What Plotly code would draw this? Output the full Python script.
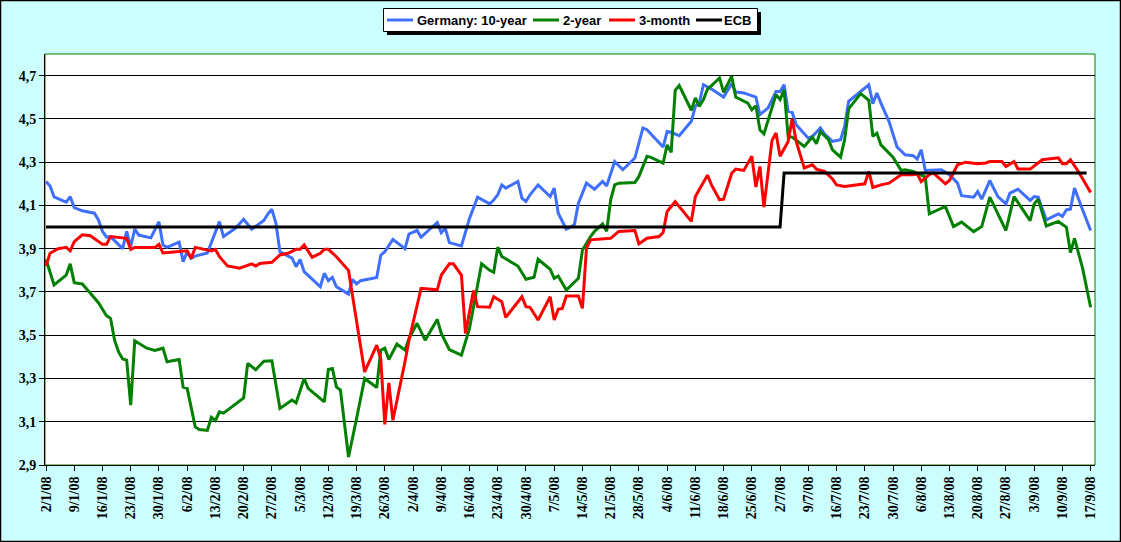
import plotly.graph_objects as go

# German yields 2008
dates_10y = [
    "2008-01-02", "2008-01-03", "2008-01-04", "2008-01-07", "2008-01-08", "2008-01-09",
    "2008-01-11", "2008-01-14", "2008-01-15", "2008-01-16", "2008-01-17", "2008-01-18",
    "2008-01-21", "2008-01-22", "2008-01-23", "2008-01-24", "2008-01-25", "2008-01-28",
    "2008-01-30", "2008-01-31", "2008-02-01", "2008-02-04", "2008-02-05", "2008-02-06",
    "2008-02-07", "2008-02-08", "2008-02-11", "2008-02-14", "2008-02-15", "2008-02-18",
    "2008-02-20", "2008-02-22", "2008-02-25", "2008-02-26", "2008-02-27", "2008-02-28",
    "2008-02-29", "2008-03-03", "2008-03-04", "2008-03-05", "2008-03-06", "2008-03-10",
    "2008-03-11", "2008-03-12", "2008-03-13", "2008-03-14", "2008-03-17", "2008-03-18",
    "2008-03-19", "2008-03-20", "2008-03-24", "2008-03-25", "2008-03-26", "2008-03-28",
    "2008-03-31", "2008-04-01", "2008-04-03", "2008-04-04", "2008-04-08", "2008-04-09",
    "2008-04-10", "2008-04-11", "2008-04-14", "2008-04-16", "2008-04-18", "2008-04-21",
    "2008-04-22", "2008-04-23", "2008-04-24", "2008-04-25", "2008-04-28", "2008-04-29",
    "2008-04-30", "2008-05-01", "2008-05-03", "2008-05-06", "2008-05-07", "2008-05-08",
    "2008-05-10", "2008-05-12", "2008-05-13", "2008-05-15", "2008-05-17", "2008-05-19",
    "2008-05-20", "2008-05-22", "2008-05-24", "2008-05-27", "2008-05-29", "2008-05-30",
    "2008-06-03", "2008-06-04", "2008-06-05", "2008-06-07", "2008-06-10", "2008-06-11",
    "2008-06-12", "2008-06-13", "2008-06-15", "2008-06-18", "2008-06-20", "2008-06-21",
    "2008-06-23", "2008-06-26", "2008-06-27", "2008-06-29", "2008-07-01", "2008-07-02",
    "2008-07-03", "2008-07-04", "2008-07-05", "2008-07-06", "2008-07-09", "2008-07-10",
    "2008-07-12", "2008-07-13", "2008-07-15", "2008-07-17", "2008-07-18", "2008-07-19",
    "2008-07-24", "2008-07-25", "2008-07-26", "2008-07-27", "2008-07-29", "2008-07-31",
    "2008-08-02", "2008-08-04", "2008-08-05", "2008-08-06", "2008-08-07", "2008-08-11",
    "2008-08-13", "2008-08-15", "2008-08-16", "2008-08-19", "2008-08-20", "2008-08-21",
    "2008-08-23", "2008-08-25", "2008-08-27", "2008-08-28", "2008-08-30", "2008-09-02",
    "2008-09-03", "2008-09-04", "2008-09-06", "2008-09-09", "2008-09-10", "2008-09-11",
    "2008-09-12", "2008-09-13", "2008-09-15", "2008-09-17",
]
yield_10y = [
    4.21, 4.19, 4.14, 4.115, 4.14, 4.09,
    4.075, 4.064, 4.033, 3.98, 3.953, 3.956,
    3.90, 3.98, 3.91, 3.99, 3.963, 3.95,
    4.025, 3.917, 3.906, 3.93, 3.84, 3.886,
    3.855, 3.866, 3.88, 4.025, 3.956, 3.995,
    4.036, 3.99, 4.03, 4.06, 4.082, 4.018,
    3.886, 3.856, 3.817, 3.85, 3.794, 3.724,
    3.786, 3.752, 3.767, 3.724, 3.69, 3.758,
    3.737, 3.752, 3.767, 3.87, 3.886, 3.943,
    3.90, 3.968, 3.984, 3.953, 4.021, 3.974,
    3.994, 3.928, 3.913, 4.04, 4.138, 4.107,
    4.125, 4.149, 4.195, 4.18, 4.211, 4.134,
    4.118, 4.149, 4.195, 4.141, 4.18, 4.064,
    3.99, 4.01, 4.11, 4.203, 4.175, 4.211,
    4.19, 4.303, 4.265, 4.319, 4.458, 4.45,
    4.37, 4.442, 4.438, 4.422, 4.489, 4.558,
    4.577, 4.658, 4.638, 4.601, 4.663, 4.624,
    4.62, 4.601, 4.52, 4.55, 4.627, 4.627,
    4.658, 4.535, 4.53, 4.473, 4.411, 4.419,
    4.458, 4.431, 4.396, 4.404, 4.465, 4.581,
    4.658, 4.57, 4.62, 4.573, 4.489, 4.37,
    4.334, 4.33, 4.314, 4.357, 4.262, 4.265,
    4.242, 4.203, 4.145, 4.138, 4.164, 4.129,
    4.215, 4.141, 4.107, 4.157, 4.175, 4.123,
    4.141, 4.138, 4.033, 4.061, 4.049, 4.08,
    4.083, 4.18, 4.08, 3.984,
]

dates_2y = [
    "2008-01-02", "2008-01-04", "2008-01-07", "2008-01-08", "2008-01-09", "2008-01-11",
    "2008-01-13", "2008-01-15", "2008-01-17", "2008-01-18", "2008-01-19", "2008-01-20",
    "2008-01-21", "2008-01-22", "2008-01-23", "2008-01-24", "2008-01-27", "2008-01-29",
    "2008-01-31", "2008-02-01", "2008-02-04", "2008-02-05", "2008-02-06", "2008-02-08",
    "2008-02-09", "2008-02-11", "2008-02-12", "2008-02-13", "2008-02-14", "2008-02-15",
    "2008-02-20", "2008-02-21", "2008-02-23", "2008-02-25", "2008-02-27", "2008-02-29",
    "2008-03-03", "2008-03-04", "2008-03-06", "2008-03-07", "2008-03-11", "2008-03-12",
    "2008-03-13", "2008-03-14", "2008-03-15", "2008-03-16", "2008-03-17", "2008-03-19",
    "2008-03-21", "2008-03-24", "2008-03-25", "2008-03-26", "2008-03-27", "2008-03-29",
    "2008-03-31", "2008-04-01", "2008-04-03", "2008-04-05", "2008-04-08", "2008-04-09",
    "2008-04-11", "2008-04-14", "2008-04-16", "2008-04-19", "2008-04-21", "2008-04-22",
    "2008-04-23", "2008-04-24", "2008-04-26", "2008-04-28", "2008-04-30", "2008-05-02",
    "2008-05-03", "2008-05-06", "2008-05-07", "2008-05-08", "2008-05-10", "2008-05-13",
    "2008-05-14", "2008-05-16", "2008-05-17", "2008-05-19", "2008-05-20", "2008-05-21",
    "2008-05-22", "2008-05-23", "2008-05-27", "2008-05-28", "2008-05-30", "2008-05-31",
    "2008-06-03", "2008-06-04", "2008-06-05", "2008-06-06", "2008-06-07", "2008-06-10",
    "2008-06-11", "2008-06-12", "2008-06-13", "2008-06-14", "2008-06-15", "2008-06-17",
    "2008-06-18", "2008-06-20", "2008-06-21", "2008-06-24", "2008-06-25", "2008-06-26",
    "2008-06-27", "2008-06-28", "2008-07-01", "2008-07-02", "2008-07-03", "2008-07-04",
    "2008-07-05", "2008-07-08", "2008-07-10", "2008-07-11", "2008-07-12", "2008-07-14",
    "2008-07-15", "2008-07-17", "2008-07-18", "2008-07-19", "2008-07-22", "2008-07-24",
    "2008-07-25", "2008-07-26", "2008-07-27", "2008-07-29", "2008-07-30", "2008-08-01",
    "2008-08-02", "2008-08-04", "2008-08-07", "2008-08-08", "2008-08-12", "2008-08-14",
    "2008-08-16", "2008-08-19", "2008-08-21", "2008-08-23", "2008-08-27", "2008-08-29",
    "2008-09-02", "2008-09-03", "2008-09-04", "2008-09-06", "2008-09-09", "2008-09-11",
    "2008-09-12", "2008-09-13", "2008-09-15", "2008-09-17",
]
yield_2y = [
    3.85, 3.732, 3.778, 3.83, 3.743, 3.737,
    3.694, 3.65, 3.59, 3.578, 3.477, 3.423,
    3.39, 3.385, 3.177, 3.474, 3.44, 3.43,
    3.44, 3.377, 3.388, 3.26, 3.254, 3.076,
    3.064, 3.06, 3.12, 3.105, 3.146, 3.14,
    3.21, 3.37, 3.34, 3.38, 3.382, 3.161,
    3.20, 3.187, 3.30, 3.254, 3.192, 3.342,
    3.346, 3.261, 3.246, 3.092, 2.937, 3.115,
    3.30, 3.258, 3.431, 3.44, 3.388, 3.459,
    3.431, 3.485, 3.555, 3.477, 3.573, 3.508,
    3.434, 3.408, 3.531, 3.83, 3.80, 3.791,
    3.907, 3.864, 3.84, 3.82, 3.759, 3.768,
    3.851, 3.805, 3.763, 3.774, 3.709, 3.763,
    3.894, 3.956, 3.98, 4.015, 3.98, 4.126,
    4.195, 4.203, 4.206, 4.234, 4.327, 4.322,
    4.296, 4.38, 4.345, 4.632, 4.654, 4.54,
    4.597, 4.558, 4.589, 4.638, 4.654, 4.689,
    4.623, 4.697, 4.601, 4.573, 4.542, 4.561,
    4.45, 4.431, 4.612, 4.589, 4.635, 4.419,
    4.416, 4.373, 4.416, 4.385, 4.442, 4.404,
    4.357, 4.323, 4.404, 4.546, 4.617, 4.586,
    4.419, 4.434, 4.38, 4.339, 4.323, 4.262,
    4.265, 4.257, 4.231, 4.061, 4.095, 4.002,
    4.023, 3.979, 4.002, 4.138, 3.984, 4.141,
    4.03, 4.107, 4.129, 4.005, 4.026, 3.999,
    3.882, 3.948, 3.81, 3.629,
]

dates_3m = [
    "2008-01-02", "2008-01-03", "2008-01-05", "2008-01-07", "2008-01-08", "2008-01-09",
    "2008-01-11", "2008-01-13", "2008-01-16", "2008-01-17", "2008-01-18", "2008-01-22",
    "2008-01-23", "2008-01-24", "2008-01-29", "2008-01-30", "2008-01-31", "2008-02-03",
    "2008-02-06", "2008-02-07", "2008-02-08", "2008-02-12", "2008-02-13", "2008-02-14",
    "2008-02-16", "2008-02-19", "2008-02-22", "2008-02-23", "2008-02-24", "2008-02-27",
    "2008-02-29", "2008-03-02", "2008-03-04", "2008-03-05", "2008-03-06", "2008-03-08",
    "2008-03-10", "2008-03-11", "2008-03-12", "2008-03-14", "2008-03-17", "2008-03-21",
    "2008-03-24", "2008-03-25", "2008-03-26", "2008-03-27", "2008-03-28", "2008-03-31",
    "2008-04-01", "2008-04-04", "2008-04-08", "2008-04-09", "2008-04-11", "2008-04-12",
    "2008-04-14", "2008-04-15", "2008-04-17", "2008-04-18", "2008-04-21", "2008-04-22",
    "2008-04-24", "2008-04-25", "2008-04-29", "2008-04-30", "2008-05-01", "2008-05-03",
    "2008-05-06", "2008-05-07", "2008-05-08", "2008-05-09", "2008-05-10", "2008-05-13",
    "2008-05-14", "2008-05-15", "2008-05-16", "2008-05-21", "2008-05-23", "2008-05-27",
    "2008-05-28", "2008-05-30", "2008-06-02", "2008-06-03", "2008-06-04", "2008-06-06",
    "2008-06-10", "2008-06-11", "2008-06-12", "2008-06-14", "2008-06-15", "2008-06-17",
    "2008-06-18", "2008-06-20", "2008-06-21", "2008-06-23", "2008-06-25", "2008-06-26",
    "2008-06-27", "2008-06-28", "2008-06-30", "2008-07-01", "2008-07-02", "2008-07-04",
    "2008-07-05", "2008-07-06", "2008-07-08", "2008-07-10", "2008-07-11", "2008-07-13",
    "2008-07-15", "2008-07-16", "2008-07-18", "2008-07-21", "2008-07-23", "2008-07-24",
    "2008-07-25", "2008-07-27", "2008-07-29", "2008-08-01", "2008-08-04", "2008-08-05",
    "2008-08-06", "2008-08-08", "2008-08-09", "2008-08-12", "2008-08-13", "2008-08-15",
    "2008-08-17", "2008-08-20", "2008-08-22", "2008-08-23", "2008-08-26", "2008-08-27",
    "2008-08-29", "2008-08-30", "2008-09-02", "2008-09-05", "2008-09-07", "2008-09-09",
    "2008-09-10", "2008-09-11", "2008-09-12", "2008-09-14", "2008-09-17",
]
yield_3m = [
    3.82, 3.879, 3.90, 3.906, 3.89, 3.933,
    3.964, 3.96, 3.92, 3.92, 3.956, 3.948,
    3.897, 3.906, 3.906, 3.92, 3.88, 3.886,
    3.89, 3.855, 3.906, 3.89, 3.897, 3.863,
    3.82, 3.81, 3.83, 3.82, 3.832, 3.837,
    3.871, 3.879, 3.897, 3.897, 3.917, 3.86,
    3.879, 3.897, 3.897, 3.863, 3.80, 3.33,
    3.454, 3.39, 3.088, 3.28, 3.107, 3.377,
    3.477, 3.717, 3.71, 3.778, 3.83, 3.83,
    3.778, 3.508, 3.706, 3.632, 3.629, 3.678,
    3.655, 3.583, 3.678, 3.632, 3.629, 3.57,
    3.678, 3.57, 3.62, 3.624, 3.681, 3.681,
    3.624, 3.902, 3.941, 3.948, 3.98, 3.984,
    3.922, 3.948, 3.956, 3.975, 4.072, 4.118,
    4.026, 4.141, 4.172, 4.24, 4.195, 4.126,
    4.129, 4.249, 4.268, 4.262, 4.327, 4.185,
    4.28, 4.092, 4.40, 4.435, 4.327, 4.396,
    4.50, 4.396, 4.273, 4.288, 4.268, 4.257,
    4.222, 4.195, 4.188, 4.195, 4.20, 4.257,
    4.183, 4.195, 4.203, 4.242, 4.242, 4.246,
    4.21, 4.242, 4.25, 4.20, 4.215, 4.288,
    4.30, 4.293, 4.296, 4.303, 4.303, 4.28,
    4.303, 4.268, 4.268, 4.311, 4.314, 4.32,
    4.293, 4.293, 4.311, 4.256, 4.16,
]

dates_ecb = ["2008-01-02", "2008-07-02", "2008-07-03", "2008-09-16"]
rate_ecb = [4.00, 4.00, 4.25, 4.25]

series_names = ["Germany: 10-year", "2-year", "3-month", "ECB"]
series_colors = ["#3F6FFF", "#008000", "#FF0000", "#000000"]

fig = go.Figure()
for name, color, xs, ys in zip(series_names, series_colors,
                               [dates_10y, dates_2y, dates_3m, dates_ecb],
                               [yield_10y, yield_2y, yield_3m, rate_ecb]):
    fig.add_trace(go.Scatter(x=xs, y=ys, mode="lines", name=name,
                             line=dict(color=color, width=3)))

L, R, T, B = 45, 26, 54, 77
W, H = 1121, 542
pw, ph = W - L - R, H - T - B

def px_x(x):
    return (x - L) / pw

def px_y(y):
    return (H - B - y) / ph

axis_font = dict(family="Liberation Serif", size=14, color="black", weight="bold")

# Excel-style legend box with drop shadow, drawn by hand
shapes = [
    dict(type="rect", xref="paper", yref="paper", x0=0, x1=1, y0=0, y1=1,
         line=dict(color="#008000", width=1), layer="below"),
    dict(type="rect", xref="paper", yref="paper",
         x0=px_x(387), x1=px_x(761), y0=px_y(35), y1=px_y(12),
         fillcolor="black", line=dict(width=0)),
    dict(type="rect", xref="paper", yref="paper",
         x0=px_x(383.5), x1=px_x(757.5), y0=px_y(31.5), y1=px_y(8.5),
         fillcolor="white", line=dict(color="black", width=1)),
    dict(type="rect", xref="paper", yref="paper",
         x0=px_x(0.5), x1=px_x(W - 0.5), y0=px_y(H - 0.5), y1=px_y(0.5),
         line=dict(color="black", width=1.5)),
]
annotations = []
legend_line_x = [387, 533, 609, 696]
legend_text_x = [415, 561, 637, 722]
for name, color, lx, tx in zip(series_names, series_colors, legend_line_x, legend_text_x):
    shapes.append(dict(type="line", xref="paper", yref="paper",
                       x0=px_x(lx), x1=px_x(lx + 26), y0=px_y(20), y1=px_y(20),
                       line=dict(color=color, width=3)))
    annotations.append(dict(text=name, xref="paper", yref="paper",
                            x=px_x(tx), y=px_y(20.5), xanchor="left", yanchor="middle",
                            showarrow=False,
                            font=dict(family="Liberation Sans", size=13, color="black",
                                      weight="bold")))

fig.update_layout(
    width=W, height=H,
    margin=dict(l=L, r=R, t=T, b=B, autoexpand=False),
    paper_bgcolor="#CCFFFF",
    plot_bgcolor="white",
    separators=",.",
    showlegend=False,
    xaxis=dict(
        type="date",
        range=["2008-01-01 18:00", "2008-09-18 02:00"],
        tick0="2008-01-02", dtick=7 * 24 * 3600 * 1000,
        tickformat="%-d/%-m/%y", tickangle=-90,
        ticks="outside", ticklen=5, tickcolor="black",
        showgrid=False, showline=True, linecolor="black", linewidth=1,
        tickfont=axis_font, zeroline=False, automargin=False,
    ),
    yaxis=dict(
        range=[2.9, 4.8],
        tick0=2.9, dtick=0.2, tickformat=".1f",
        ticks="outside", ticklen=5, tickcolor="black",
        showgrid=True, gridcolor="black", gridwidth=1,
        showline=True, linecolor="black", linewidth=1,
        tickfont=axis_font, zeroline=False, automargin=False,
    ),
    shapes=shapes,
    annotations=annotations,
)

fig.write_html("out.html", config={"displayModeBar": False},
               post_script="document.body.style.margin='0';")
